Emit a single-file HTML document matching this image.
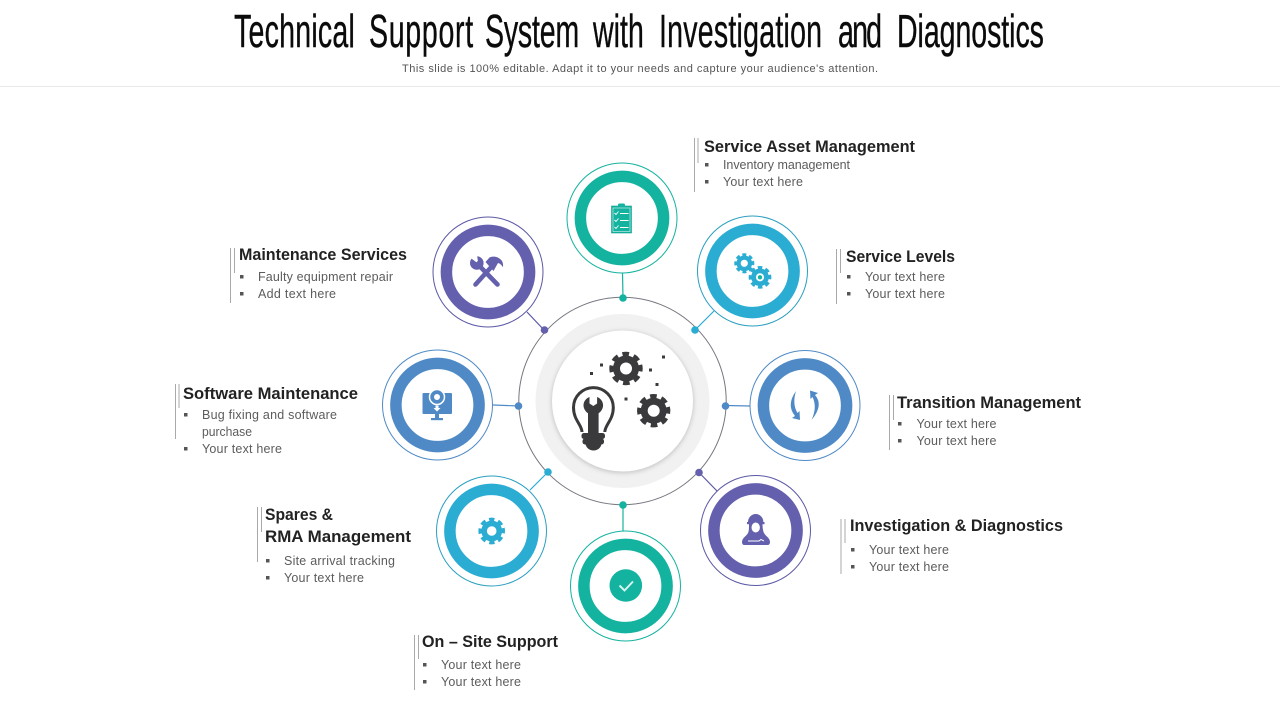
<!DOCTYPE html>
<html><head><meta charset="utf-8">
<style>
html,body{margin:0;padding:0;background:#fff;width:1280px;height:720px;overflow:hidden}
svg{display:block}
text{font-family:"Liberation Sans",sans-serif}
.t{font-size:46px;fill:#0b0b0b;stroke:#0b0b0b;stroke-width:.4px}
.h{font-size:17px;font-weight:bold;fill:#222}
.i{font-size:12.5px;fill:#5c5c5c}
.v{stroke:#a9a9a9;stroke-width:1}
.b{fill:#555}
</style></head><body>
<svg width="1280" height="720" viewBox="0 0 1280 720" xmlns="http://www.w3.org/2000/svg">
<defs>
<filter id="s" x="-20%" y="-20%" width="140%" height="140%"><feGaussianBlur stdDeviation="2.5"/></filter>
<g id="gear">
<g transform="rotate(-14.5)"><circle r="14.4" fill="none" stroke="currentColor" stroke-width="4.6" stroke-dasharray="6.5 4.81"/></g>
<circle r="9.5" fill="none" stroke="currentColor" stroke-width="7"/>
</g>
</defs>
<rect width="1280" height="720" fill="#fff"/>
<text class="t" transform="translate(234 47) scale(.62 1)" textLength="195" lengthAdjust="spacing">Technical</text>
<text class="t" transform="translate(369 47) scale(.62 1)" textLength="168" lengthAdjust="spacing">Support</text>
<text class="t" transform="translate(485 47) scale(.62 1)" textLength="152" lengthAdjust="spacing">System</text>
<text class="t" transform="translate(593 47) scale(.62 1)" textLength="82" lengthAdjust="spacing">with</text>
<text class="t" transform="translate(659 47) scale(.62 1)" textLength="263" lengthAdjust="spacing">Investigation</text>
<text class="t" transform="translate(838 47) scale(.62 1)" textLength="71" lengthAdjust="spacing">and</text>
<text class="t" transform="translate(897 47) scale(.62 1)" textLength="237" lengthAdjust="spacing">Diagnostics</text>
<text x="402" y="72" font-size="11" fill="#555" textLength="476" lengthAdjust="spacing">This slide is 100% editable. Adapt it to your needs and capture  your audience's attention.</text>
<line x1="0" y1="86.5" x2="1280" y2="86.5" stroke="#e8e8e8" stroke-width="1"/>

<!-- centre -->
<circle cx="622.5" cy="401" r="103.7" fill="#fff" stroke="#77757f" stroke-width="1"/>
<circle cx="622.5" cy="401" r="87" fill="#f1f1f1"/>
<circle cx="622.5" cy="402" r="71" fill="#c4c4c4" filter="url(#s)"/>
<circle cx="622.5" cy="401" r="70.5" fill="#fff"/>

<!-- connectors -->
<g stroke-width="1.2" fill="none">
<line x1="622.5" y1="273" x2="623" y2="298" stroke="#14b3a0"/>
<line x1="714" y1="311" x2="695" y2="330" stroke="#2bacd3"/>
<line x1="750" y1="406" x2="726" y2="405.5" stroke="#4f8ac6"/>
<line x1="717" y1="491" x2="699" y2="472.5" stroke="#5b58a5"/>
<line x1="623" y1="505" x2="623" y2="531" stroke="#14b3a0"/>
<line x1="530" y1="490" x2="548" y2="472" stroke="#2bacd3"/>
<line x1="493" y1="405" x2="519" y2="406" stroke="#4f8ac6"/>
<line x1="527" y1="312" x2="544" y2="330" stroke="#5b58a5"/>
</g>
<circle cx="623" cy="298" r="3.8" fill="#14b3a0"/>
<circle cx="695" cy="330" r="3.8" fill="#2bacd3"/>
<circle cx="725.5" cy="406" r="3.8" fill="#4f8ac6"/>
<circle cx="699" cy="472.5" r="3.8" fill="#6460ad"/>
<circle cx="623" cy="505" r="3.8" fill="#14b3a0"/>
<circle cx="548" cy="472" r="3.8" fill="#2bacd3"/>
<circle cx="518.5" cy="406" r="3.8" fill="#4f8ac6"/>
<circle cx="544.5" cy="330" r="3.8" fill="#6460ad"/>

<!-- satellites -->
<g fill="#fff">
<circle cx="622" cy="218" r="55" stroke="#14b3a0" stroke-width="1"/>
<circle cx="622" cy="218" r="41.6" stroke="#14b3a0" stroke-width="11.5"/>
<circle cx="752.5" cy="271" r="55" stroke="#2a9fc0" stroke-width="1"/>
<circle cx="752.5" cy="271" r="41.6" stroke="#2bacd3" stroke-width="11.5"/>
<circle cx="805" cy="405.5" r="55" stroke="#4f8ac6" stroke-width="1"/>
<circle cx="805" cy="405.5" r="41.6" stroke="#4f8ac6" stroke-width="11.5"/>
<circle cx="755.5" cy="530.5" r="55" stroke="#5b58a5" stroke-width="1"/>
<circle cx="755.5" cy="530.5" r="41.6" stroke="#6460ad" stroke-width="11.5"/>
<circle cx="625.5" cy="586" r="55" stroke="#14b3a0" stroke-width="1"/>
<circle cx="625.5" cy="586" r="41.6" stroke="#14b3a0" stroke-width="11.5"/>
<circle cx="491.5" cy="531" r="55" stroke="#2a9fc0" stroke-width="1"/>
<circle cx="491.5" cy="531" r="41.6" stroke="#2bacd3" stroke-width="11.5"/>
<circle cx="437.5" cy="405" r="55" stroke="#4f8ac6" stroke-width="1"/>
<circle cx="437.5" cy="405" r="41.6" stroke="#4f8ac6" stroke-width="11.5"/>
<circle cx="488" cy="272" r="55" stroke="#5b58a5" stroke-width="1"/>
<circle cx="488" cy="272" r="41.6" stroke="#6460ad" stroke-width="11.5"/>
</g>

<!-- centre icons -->
<g color="#3a3a3c">
<use href="#gear" transform="translate(626,368.5)"/>
<use href="#gear" transform="translate(653.7,410.7)"/>
</g>
<g fill="#3a3a3c">
<rect x="590" y="372" width="3" height="3"/><rect x="600" y="363.5" width="3" height="3"/>
<rect x="649" y="368.5" width="3" height="3"/><rect x="662" y="355.5" width="3" height="3"/>
<rect x="655.5" y="383" width="3" height="3"/><rect x="624.5" y="397.5" width="3" height="3"/>
<!-- bulb base -->
<rect x="581.5" y="433" width="23.5" height="6" rx="2.5"/>
<rect x="582.5" y="438.5" width="21.5" height="6" rx="2.5"/>
<path d="M585.500 444h16c-.5 3.500-3.800 6.500-8 6.500s-7.500-3-8-6.500z"/>
<!-- wrench -->
<rect x="588" y="408" width="10.600" height="26"/>
<path d="M589.500 397v6.500l3.800 2.500 3.800-2.500V397c3.800 1.500 6 4.700 6 8.300 0 4-3 7.700-6 8.700h-7.600c-3-1-6-4.700-6-8.700 0-3.600 2.200-6.800 6-8.300z"/>
</g>
<path d="M582 432c0-7-8.500-12-8.500-24.500a19.900 19.900 0 0 1 39.800 0c0 12.500-8.500 17.500-8.500 24.500" fill="none" stroke="#3a3a3c" stroke-width="3"/>

<!-- clipboard -->
<rect x="611.500" y="206" width="20" height="27" fill="#14b3a0" stroke="#0f9f8e" stroke-width=".6"/>
<rect x="618" y="203.500" width="7" height="4" rx="1.500" fill="#14b3a0"/>
<g stroke="#fff" stroke-width=".9" fill="none">
<rect x="613" y="208" width="17" height="23.500" stroke-width=".5"/>
<path d="M614.500 213l1.500 1.500 2.500-3M614.500 220l1.500 1.500 2.500-3M614.500 227l1.500 1.500 2.500-3"/>
<path d="M620 213.500h8.500M620 220.500h8.500M620 227.500h8.500"/>
</g>

<!-- cog pair -->
<g color="#2bacd3">
<use href="#gear" transform="translate(744.300,263.300) scale(.6)"/>
<use href="#gear" transform="translate(760,277.300) scale(.68)"/>
</g>
<circle cx="760" cy="277.300" r="2.200" fill="#1ab3a0"/>

<!-- tools -->
<g stroke="#6460ad" fill="none" stroke-linecap="round" stroke-width="4.600">
<path d="M479.500 266l18 18.500"/>
<path d="M475.500 284.500l18-20"/>
</g>
<circle cx="476.800" cy="263" r="6.800" fill="#6460ad"/>
<path d="M470 256l6.500 6.500 1.500-1.500-0-6.500-3-2z" fill="#fff" transform="rotate(-8 476 262)"/>
<path d="M485.500 262l4-4.500c3-1.500 9-1.500 12.500 3.500.8 1.500 1.300 3.500 1 6.300-1.300-2.300-3-3.800-5-4.300l-4.500 8z" fill="#6460ad"/>

<!-- monitor -->
<rect x="422.500" y="393" width="29.500" height="21" rx="1" fill="#4f8ac6"/>
<rect x="435" y="414" width="4" height="4.500" fill="#4f8ac6"/>
<rect x="431" y="418" width="12" height="2.200" fill="#4f8ac6"/>
<circle cx="437" cy="397" r="7.500" fill="#4f8ac6" stroke="#fff" stroke-width="1.500"/>
<circle cx="437" cy="397" r="3" fill="#fff"/>
<path d="M435.500 405.500h3v2.500h2l-3.500 3.500-3.500-3.500h2z" fill="#fff"/>

<!-- arrows -->
<g fill="#4f8ac6">
<path d="M796 391Q786 405 795 416L792 418L800 420L799.500 411L797.500 413Q792 404 796 391z"/>
<path d="M811.500 420Q824 405 815 395L818 393L810 390.500L810.500 399L812.500 397Q817.500 407 811.500 420z"/>
</g>

<!-- worker -->
<path d="M748 522a7.700 8 0 0 1 15.400 0z" fill="#6460ad"/>
<rect x="747" y="522" width="17.500" height="2.200" fill="#6460ad"/>
<path d="M749 524h13.500c0 4 .5 7 1.500 9 1.500 3 6 5 6 9 0 2-1 3-2.500 3h-23c-1.500 0-2.500-1-2.500-3 0-4 4.500-6 6-9 1-2 1-5 1-9z" fill="#6460ad"/>
<ellipse cx="755.700" cy="527.500" rx="4.200" ry="5" fill="#fff"/>
<path d="M748 541h11l2-1.500 3 1.500" stroke="#fff" stroke-width="1" fill="none"/>

<!-- check -->
<circle cx="625.800" cy="585.500" r="16.300" fill="#14b3a0"/>
<path d="M619.500 585.500l5 5 8.500-9" fill="none" stroke="#d7f4ef" stroke-width="2"/>

<!-- single gear -->
<g color="#2bacd3"><use href="#gear" transform="translate(491.700,531) scale(.8)"/></g>

<!-- labels -->
<line class="v" x1="694.500" y1="138" x2="694.500" y2="192"/><line class="v" x1="698" y1="138" x2="698" y2="163"/>
<text class="h" x="704" y="152" textLength="211" lengthAdjust="spacingAndGlyphs">Service Asset Management</text>
<rect class="b" x="705" y="163" width="3.500" height="3.500"/><text class="i" x="723" y="169" textLength="127" lengthAdjust="spacing">Inventory management</text>
<rect class="b" x="705" y="180" width="3.500" height="3.500"/><text class="i" x="723" y="186" textLength="80" lengthAdjust="spacing">Your text here</text>

<line class="v" x1="836.500" y1="249" x2="836.500" y2="304"/><line class="v" x1="840.500" y1="249" x2="840.500" y2="273"/>
<text class="h" x="846" y="262" textLength="109" lengthAdjust="spacingAndGlyphs">Service Levels</text>
<rect class="b" x="847" y="275" width="3.500" height="3.500"/><text class="i" x="865" y="281" textLength="80" lengthAdjust="spacing">Your text here</text>
<rect class="b" x="847" y="292" width="3.500" height="3.500"/><text class="i" x="865" y="298" textLength="80" lengthAdjust="spacing">Your text here</text>

<line class="v" x1="889.500" y1="395" x2="889.500" y2="450"/><line class="v" x1="893.500" y1="395" x2="893.500" y2="420"/>
<text class="h" x="897" y="408" textLength="184" lengthAdjust="spacingAndGlyphs">Transition Management</text>
<rect class="b" x="898" y="422" width="3.500" height="3.500"/><text class="i" x="916.500" y="428" textLength="80" lengthAdjust="spacing">Your text here</text>
<rect class="b" x="898" y="439" width="3.500" height="3.500"/><text class="i" x="916.500" y="445" textLength="80" lengthAdjust="spacing">Your text here</text>

<line class="v" x1="841" y1="519" x2="841" y2="574"/><line class="v" x1="845" y1="519" x2="845" y2="543"/>
<text class="h" x="850" y="531" textLength="213" lengthAdjust="spacingAndGlyphs">Investigation &amp; Diagnostics</text>
<rect class="b" x="851" y="548" width="3.500" height="3.500"/><text class="i" x="869" y="554" textLength="80" lengthAdjust="spacing">Your text here</text>
<rect class="b" x="851" y="565" width="3.500" height="3.500"/><text class="i" x="869" y="571" textLength="80" lengthAdjust="spacing">Your text here</text>

<line class="v" x1="414.500" y1="635" x2="414.500" y2="690"/><line class="v" x1="418.500" y1="635" x2="418.500" y2="659"/>
<text class="h" x="422" y="647" textLength="136" lengthAdjust="spacingAndGlyphs">On – Site Support</text>
<rect class="b" x="423" y="663" width="3.500" height="3.500"/><text class="i" x="441" y="669" textLength="80" lengthAdjust="spacing">Your text here</text>
<rect class="b" x="423" y="680" width="3.500" height="3.500"/><text class="i" x="441" y="686" textLength="80" lengthAdjust="spacing">Your text here</text>

<line class="v" x1="257.500" y1="507" x2="257.500" y2="562"/><line class="v" x1="261.500" y1="507" x2="261.500" y2="532"/>
<text class="h" x="265" y="520" textLength="68" lengthAdjust="spacingAndGlyphs">Spares &amp;</text>
<text class="h" x="265" y="542" textLength="146" lengthAdjust="spacingAndGlyphs">RMA Management</text>
<rect class="b" x="266" y="559" width="3.500" height="3.500"/><text class="i" x="284" y="565" textLength="111" lengthAdjust="spacing">Site arrival tracking</text>
<rect class="b" x="266" y="576" width="3.500" height="3.500"/><text class="i" x="284" y="582" textLength="80" lengthAdjust="spacing">Your text here</text>

<line class="v" x1="175.500" y1="384" x2="175.500" y2="439"/><line class="v" x1="179" y1="384" x2="179" y2="408"/>
<text class="h" x="183" y="399" textLength="175" lengthAdjust="spacingAndGlyphs">Software Maintenance</text>
<rect class="b" x="184" y="413" width="3.500" height="3.500"/><text class="i" x="202" y="419" textLength="135" lengthAdjust="spacing">Bug fixing and software</text>
<text class="i" x="202" y="436" textLength="50" lengthAdjust="spacingAndGlyphs">purchase</text>
<rect class="b" x="184" y="447" width="3.500" height="3.500"/><text class="i" x="202" y="453" textLength="80" lengthAdjust="spacing">Your text here</text>

<line class="v" x1="230.500" y1="248" x2="230.500" y2="303"/><line class="v" x1="234.500" y1="248" x2="234.500" y2="273"/>
<text class="h" x="239" y="260" textLength="168" lengthAdjust="spacingAndGlyphs">Maintenance Services</text>
<rect class="b" x="240" y="275" width="3.500" height="3.500"/><text class="i" x="258" y="281" textLength="135" lengthAdjust="spacing">Faulty equipment repair</text>
<rect class="b" x="240" y="292" width="3.500" height="3.500"/><text class="i" x="258" y="298" textLength="78" lengthAdjust="spacing">Add text here</text>
</svg>
</body></html>
